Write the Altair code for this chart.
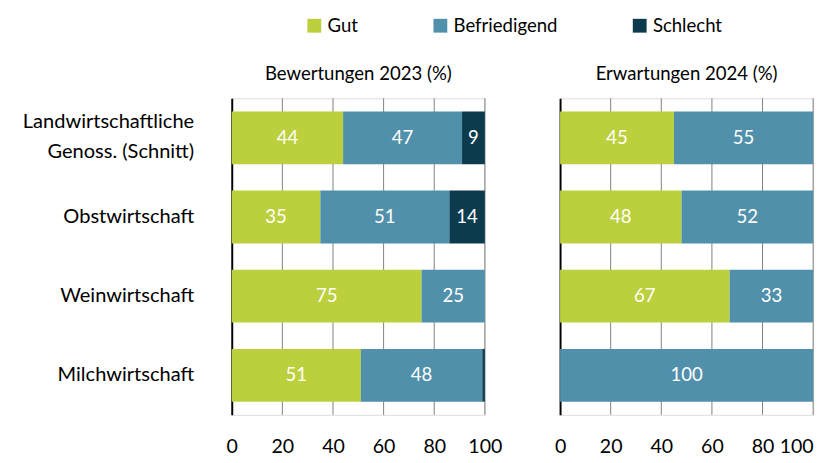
import altair as alt
import pandas as pd

FONT = "Lato"

categories = ["Landwirtschaftliche|Genoss. (Schnitt)", "Obstwirtschaft", "Weinwirtschaft", "Milchwirtschaft"]
ratings = ["Gut", "Befriedigend", "Schlecht"]
gut_2023 = [44, 35, 75, 51]
befr_2023 = [47, 51, 25, 48]
schl_2023 = [9, 14, 0, 1]
gut_2024 = [45, 48, 67, 0]
befr_2024 = [55, 52, 33, 100]
schl_2024 = [0, 0, 0, 0]
colors = ["#BBD03C", "#5190AA", "#0C3B4E"]
tick_values = [0, 20, 40, 60, 80, 100]
titles = ["Bewertungen 2023 (%)", "Erwartungen 2024 (%)"]


def make_df(gut, befr, schl):
    rows = []
    for i, c in enumerate(categories):
        for j, (r, vals) in enumerate(zip(ratings, [gut, befr, schl])):
            rows.append({"cat": c, "rating": r, "order": j, "value": vals[i]})
    return pd.DataFrame(rows)


df23 = make_df(gut_2023, befr_2023, schl_2023)
df24 = make_df(gut_2024, befr_2024, schl_2024)
grid_df = pd.DataFrame({"t": tick_values[1:]})

legend = alt.Legend(
    title=None, orient="none", legendX=75, legendY=-84, direction="horizontal",
    symbolType="square", symbolSize=200, symbolStrokeWidth=0, labelFontSize=19,
    labelFont=FONT, labelColor="black", columnPadding=74, labelOffset=4,
)


def panel(df, title, show_labels):
    base = alt.Chart(df).transform_stack(
        stack="value", groupby=["cat"], as_=["x0", "x1"],
        sort=[alt.SortField("order", order="ascending")],
    ).transform_calculate(mid="(datum.x0 + datum.x1) / 2")
    yaxis = alt.Axis(
        title=None, labels=show_labels, ticks=False, domain=True, domainColor="black",
        domainWidth=2, labelFontSize=20.5, labelFont=FONT, labelColor="black",
        labelPadding=39, labelExpr="split(datum.label, '|')", labelLineHeight=31,
        labelOffset={"condition": {"test": "indexof(datum.label, '|') >= 0", "value": -16}, "value": 0},
        grid=False,
    )
    xscale = alt.Scale(domain=[0, 100], nice=False)
    y = alt.Y("cat:N", sort=categories,
              scale=alt.Scale(paddingInner=0.333, paddingOuter=0.1667), axis=yaxis)
    if show_labels:
        align = "center"
    else:
        align = {"condition": {"test": "datum.value == 100", "value": "right"}, "value": "center"}
    xaxis = alt.Axis(
        title=None, values=tick_values, domain=False, ticks=False, grid=False,
        labelFontSize=20, labelFont=FONT, labelColor="black", labelPadding=23,
        labelFlush=False, labelOverlap=False, labelAlign=align,
    )
    grid = alt.Chart(grid_df).mark_rule(color="#7f7f7f", strokeWidth=1).encode(
        x=alt.X("t:Q", scale=xscale, axis=xaxis)
    )
    bars = base.mark_bar().encode(
        y=y,
        x=alt.X("x0:Q", scale=xscale, axis=xaxis),
        x2="x1:Q",
        color=alt.Color("rating:N", scale=alt.Scale(domain=ratings, range=colors), legend=legend),
    )
    text = base.transform_filter("datum.value >= 3").mark_text(
        color="white", fontSize=19, font=FONT
    ).encode(
        y=y,
        x=alt.X("mid:Q", scale=xscale, axis=xaxis),
        text="value:Q",
    )
    return alt.layer(grid, bars, text).properties(
        width=259, height=324,
        title=alt.TitleParams(title, fontSize=19, font=FONT, fontWeight="normal",
                              color="black", offset=14, anchor="middle"),
    )


chart = alt.hconcat(
    panel(df23, titles[0], True), panel(df24, titles[1], False), spacing=52
).configure_view(stroke=None).configure(background="white", padding={"left": 14, "top": 3, "right": 5, "bottom": 5})

chart.save("out.html", embed_options={"renderer": "svg", "actions": False})
